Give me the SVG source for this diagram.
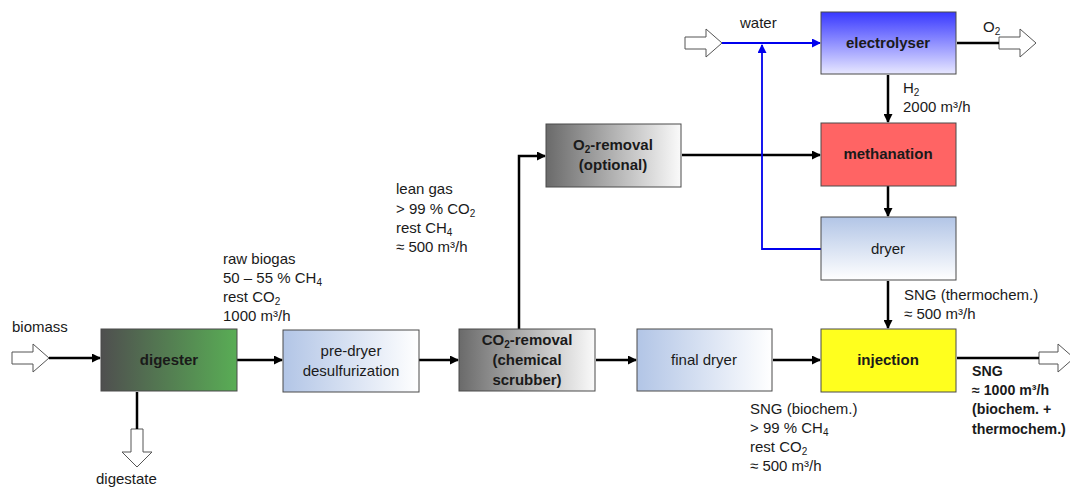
<svg xmlns="http://www.w3.org/2000/svg" width="1070" height="488" viewBox="0 0 1070 488">
<style>
text{font-family:"Liberation Sans",Arial,sans-serif;font-size:15px;fill:#1a1a1a}
.b{font-weight:bold}
.c{text-anchor:middle}
.o{font-size:14.2px}
.box{stroke:#4a4a4a;stroke-width:1}
.ln{fill:none;stroke:#000;stroke-width:2.5}
.bl{fill:none;stroke:#0000ee;stroke-width:1.8}
.ha{fill:#fff;stroke:#555;stroke-width:1}
.s{font-size:10px}
</style>
<defs>
<linearGradient id="gDig" x1="0" y1="0" x2="1" y2="0"><stop offset="0" stop-color="#4f4f4f"/><stop offset="1" stop-color="#59ad55"/></linearGradient>
<linearGradient id="gGrey" x1="0" y1="0" x2="1" y2="0"><stop offset="0" stop-color="#6a6a6a"/><stop offset="1" stop-color="#fafafa"/></linearGradient>
<linearGradient id="gBlueH" x1="0" y1="0" x2="1" y2="0"><stop offset="0" stop-color="#b2c5e6"/><stop offset="1" stop-color="#ffffff"/></linearGradient>
<linearGradient id="gBlueV" x1="0" y1="0" x2="0" y2="1"><stop offset="0" stop-color="#b2c5e6"/><stop offset="1" stop-color="#ffffff"/></linearGradient>
<linearGradient id="gElec" x1="0" y1="0" x2="0" y2="1"><stop offset="0" stop-color="#3838ff"/><stop offset="1" stop-color="#e8e8ff"/></linearGradient>
<marker id="ah" markerWidth="9" markerHeight="9" refX="8" refY="4.5" orient="auto" markerUnits="userSpaceOnUse"><path d="M0,0 L9,4.5 L0,9 Z" fill="#000"/></marker>
<marker id="ahb" markerWidth="9" markerHeight="9" refX="8" refY="4.5" orient="auto" markerUnits="userSpaceOnUse"><path d="M0,0 L9,4.5 L0,9 Z" fill="#0000ee"/></marker>
</defs>

<g id="connectors">
<path class="ha" d="M12,352 L33,352 L33,344 L49,358 L33,372 L33,364 L12,364 Z"/>
<path class="ha" d="M131,429 L143,429 L143,452 L152,452 L137,467 L122,452 L131,452 Z"/>
<path class="ha" d="M685,37 L706,37 L706,29 L722,43 L706,57 L706,49 L685,49 Z"/>
<path class="ha" d="M999,37 L1020,37 L1020,29 L1036,43 L1020,57 L1020,49 L999,49 Z"/>
<path class="ha" d="M1039,352 L1058,352 L1058,344 L1074,358 L1058,372 L1058,364 L1039,364 Z"/>
<line class="ln" x1="49" y1="358" x2="100" y2="358" marker-end="url(#ah)"/>
<line class="ln" x1="137" y1="392" x2="137" y2="429"/>
<line class="ln" x1="237" y1="360" x2="282" y2="360" marker-end="url(#ah)"/>
<line class="ln" x1="419" y1="360" x2="458" y2="360" marker-end="url(#ah)"/>
<line class="ln" x1="596" y1="360" x2="636" y2="360" marker-end="url(#ah)"/>
<line class="ln" x1="773" y1="360" x2="820" y2="360" marker-end="url(#ah)"/>
<line class="ln" x1="957" y1="358" x2="1039" y2="358"/>
<polyline class="ln" points="519,329 519,156 545,156" marker-end="url(#ah)"/>
<line class="ln" x1="682" y1="155" x2="820" y2="155" marker-end="url(#ah)"/>
<line class="ln" x1="888" y1="75" x2="888" y2="122" marker-end="url(#ah)"/>
<line class="ln" x1="888" y1="186" x2="888" y2="216" marker-end="url(#ah)"/>
<line class="ln" x1="888" y1="281" x2="888" y2="328" marker-end="url(#ah)"/>
<line class="ln" x1="957" y1="43" x2="999" y2="43"/>
<line class="bl" x1="722" y1="43" x2="820" y2="43" marker-end="url(#ahb)"/>
<polyline class="bl" points="821,249 762,249 762,45" marker-end="url(#ahb)"/>
</g>

<g id="digester"><rect class="box" x="101" y="329" width="136" height="62" fill="url(#gDig)"/><text class="b c" x="169" y="365">digester</text></g>
<g id="predryer"><rect class="box" x="283" y="330" width="136" height="62" fill="url(#gBlueH)"/><text class="c" x="351" y="356">pre-dryer</text><text class="c" x="351" y="376">desulfurization</text></g>
<g id="co2removal"><rect class="box" x="459" y="329" width="136" height="62" fill="url(#gGrey)"/><text class="b c" x="527" y="345">CO<tspan class="s" dy="3">2</tspan><tspan dy="-3">-removal</tspan></text><text class="b c" x="527" y="365">(chemical</text><text class="b c" x="527" y="385">scrubber)</text></g>
<g id="finaldryer"><rect class="box" x="637" y="329" width="135" height="62" fill="url(#gBlueH)"/><text class="c" x="704" y="365">final dryer</text></g>
<g id="injection"><rect class="box" x="821" y="329" width="135" height="63" fill="#ffff1e"/><text class="b c" x="888" y="365">injection</text></g>
<g id="dryer"><rect class="box" x="821" y="217" width="135" height="63" fill="url(#gBlueV)"/><text class="c" x="888" y="254">dryer</text></g>
<g id="methanation"><rect class="box" x="821" y="123" width="135" height="63" fill="#ff6464"/><text class="b c" x="888" y="159">methanation</text></g>
<g id="electrolyser"><rect class="box" x="821" y="12" width="135" height="62" fill="url(#gElec)"/><text class="b c" x="888" y="48">electrolyser</text></g>
<g id="o2removal"><rect class="box" x="546" y="124" width="135" height="63" fill="url(#gGrey)"/><text class="b c" x="613" y="150">O<tspan class="s" dy="3">2</tspan><tspan dy="-3">-removal</tspan></text><text class="b c" x="613" y="170">(optional)</text></g>

<g id="labels">
<text x="12" y="332">biomass</text>
<text x="96" y="484">digestate</text>
<text x="223" y="264">raw biogas</text>
<text x="223" y="283">50 – 55 % CH<tspan class="s" dy="3">4</tspan></text>
<text x="223" y="302">rest CO<tspan class="s" dy="3">2</tspan></text>
<text x="223" y="321">1000 m³/h</text>
<text x="396" y="194">lean gas</text>
<text x="396" y="214">&gt; 99 % CO<tspan class="s" dy="3">2</tspan></text>
<text x="396" y="233">rest CH<tspan class="s" dy="3">4</tspan></text>
<text x="396" y="252">≈ 500 m³/h</text>
<text x="750" y="414">SNG (biochem.)</text>
<text x="750" y="433">&gt; 99 % CH<tspan class="s" dy="3">4</tspan></text>
<text x="750" y="452">rest CO<tspan class="s" dy="3">2</tspan></text>
<text x="750" y="471">≈ 500 m³/h</text>
<text x="904" y="300">SNG (thermochem.)</text>
<text x="904" y="319">≈ 500 m³/h</text>
<text class="b o" x="972" y="376">SNG</text>
<text class="b o" x="972" y="395">≈ 1000 m³/h</text>
<text class="b o" x="972" y="414">(biochem. +</text>
<text class="b o" x="972" y="434">thermochem.)</text>
<text x="903" y="93">H<tspan class="s" dy="3">2</tspan></text>
<text x="903" y="112">2000 m³/h</text>
<text x="740" y="28">water</text>
<text x="983" y="32">O<tspan class="s" dy="3">2</tspan></text>
</g>
</svg>
